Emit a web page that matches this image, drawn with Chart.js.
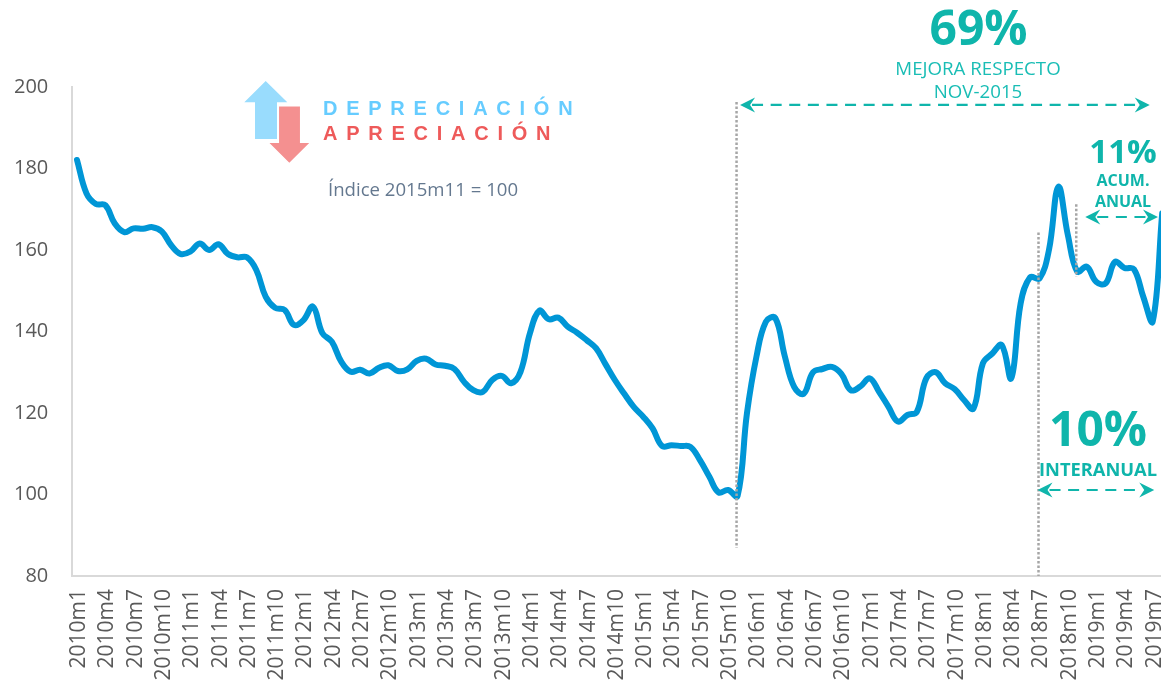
<!DOCTYPE html>
<html>
<head>
<meta charset="utf-8">
<style>
  html, body { margin: 0; padding: 0; background: #fff; overflow: hidden; }
  #wrap { width: 1161px; height: 683px; overflow: hidden; }
  canvas { display: block; }
</style>
<script src="https://cdn.jsdelivr.net/npm/chart.js@4/dist/chart.umd.js"></script>
</head>
<body>
<div id="wrap"><canvas id="chart" width="1170" height="683"></canvas></div>
<script>
const categories = [
  '2010m1','2010m2','2010m3','2010m4','2010m5','2010m6','2010m7','2010m8','2010m9','2010m10','2010m11','2010m12',
  '2011m1','2011m2','2011m3','2011m4','2011m5','2011m6','2011m7','2011m8','2011m9','2011m10','2011m11','2011m12',
  '2012m1','2012m2','2012m3','2012m4','2012m5','2012m6','2012m7','2012m8','2012m9','2012m10','2012m11','2012m12',
  '2013m1','2013m2','2013m3','2013m4','2013m5','2013m6','2013m7','2013m8','2013m9','2013m10','2013m11','2013m12',
  '2014m1','2014m2','2014m3','2014m4','2014m5','2014m6','2014m7','2014m8','2014m9','2014m10','2014m11','2014m12',
  '2015m1','2015m2','2015m3','2015m4','2015m5','2015m6','2015m7','2015m8','2015m9','2015m10','2015m11','2015m12',
  '2016m1','2016m2','2016m3','2016m4','2016m5','2016m6','2016m7','2016m8','2016m9','2016m10','2016m11','2016m12',
  '2017m1','2017m2','2017m3','2017m4','2017m5','2017m6','2017m7','2017m8','2017m9','2017m10','2017m11','2017m12',
  '2018m1','2018m2','2018m3','2018m4','2018m5','2018m6','2018m7','2018m8','2018m9','2018m10','2018m11','2018m12',
  '2019m1','2019m2','2019m3','2019m4','2019m5','2019m6','2019m7','2019m8'
]

const indexValues = [
  182.1, 173.9, 171.3, 171.0, 166.5, 164.4, 165.3, 165.2, 165.6, 164.5, 161.1, 159.0,
  159.6, 161.6, 160.0, 161.4, 159.0, 158.2, 158.2, 155.1, 148.5, 145.8, 145.3, 141.6,
  142.8, 146.1, 139.6, 137.5, 132.6, 130.1, 130.6, 129.7, 131.1, 131.7, 130.3, 130.7,
  132.8, 133.3, 131.9, 131.6, 130.8, 127.7, 125.6, 125.2, 128.1, 129.1, 127.3, 130.1,
  139.6, 145.1, 143.0, 143.4, 141.2, 139.7, 137.9, 135.9, 132.0, 128.1, 124.7, 121.5,
  119.1, 116.2, 111.9, 112.1, 111.9, 111.7, 108.5, 104.4, 100.5, 101.1, 99.6, 120.0,
  133.8, 142.4, 143.3, 134.0, 126.4, 124.7, 130.0, 130.8, 131.3, 129.6, 125.6, 126.5,
  128.5, 125.2, 121.5, 117.9, 119.5, 120.3, 128.5, 130.0, 127.3, 125.9, 123.2, 121.1,
  132.2, 134.6, 136.7, 128.5, 146.9, 153.3, 153.0, 160.0, 175.5, 163.7, 154.7, 155.9,
  152.2, 151.8, 157.1, 155.6, 155.3, 148.5, 142.5, 169.0
]

const yTicks = [80, 100, 120, 140, 160, 180, 200]

// dotted guides: category, top value, bottom value
const guideIndex = ['2015m11', '2018m7', '2018m11']
const guideTop = [196.3, 164.3, 171.2]
const guideBottom = [86.9, 80, 153.5]

// dashed arrows: from category, to category, at value
const arrowFrom = ['2015m11', '2018m7', '2018m11']
const arrowTo = ['2019m7', '2019m7', '2019m8']
const arrowValue = [195.6, 101.1, 168.1]

const TEAL = '#0fb5ab'
const FONT = '"Open Sans"'

function drawArrow(ctx, x1, x2, y) {
  ctx.save()
  ctx.strokeStyle = TEAL
  ctx.fillStyle = TEAL
  ctx.lineWidth = 2.2
  ctx.setLineDash([11, 7.6])
  ctx.beginPath()
  ctx.moveTo(x1 + 12, y)
  ctx.lineTo(x2 - 12, y)
  ctx.stroke()
  ctx.setLineDash([])
  for (const [tip, dir] of [[x1, 1], [x2, -1]]) {
    ctx.beginPath()
    ctx.moveTo(tip, y)
    ctx.lineTo(tip + dir * 15, y - 7.5)
    ctx.lineTo(tip + dir * 10, y)
    ctx.lineTo(tip + dir * 15, y + 7.5)
    ctx.closePath()
    ctx.fill()
  }
  ctx.restore()
}

function text(ctx, str, x, y, font, color, align) {
  ctx.font = font
  ctx.fillStyle = color
  ctx.textAlign = align || 'center'
  ctx.textBaseline = 'alphabetic'
  ctx.fillText(str, x, y)
}

function poly(ctx, points, fill, stroke) {
  ctx.beginPath()
  points.forEach((p, i) => i ? ctx.lineTo(p[0], p[1]) : ctx.moveTo(p[0], p[1]))
  ctx.closePath()
  ctx.fillStyle = fill
  ctx.fill()
  if (stroke) {
    ctx.strokeStyle = stroke
    ctx.lineWidth = 1.5
    ctx.stroke()
  }
}

const annotations = {
  id: 'annotations',
  afterDatasetsDraw(chart) {
    const { ctx, scales: { x, y } } = chart
    ctx.save()

    // guides
    ctx.strokeStyle = '#a6a6a6'
    ctx.lineWidth = 2.5
    ctx.setLineDash([2.5, 2])
    guideIndex.forEach((c, i) => {
      const px = x.getPixelForValue(categories.indexOf(c)) - 1
      ctx.beginPath()
      ctx.moveTo(px, y.getPixelForValue(guideTop[i]))
      ctx.lineTo(px, y.getPixelForValue(guideBottom[i]))
      ctx.stroke()
    })
    ctx.setLineDash([])

    // arrows, nudged off the guides they start from
    const ax = (c) => x.getPixelForValue(categories.indexOf(c))
    drawArrow(ctx, ax(arrowFrom[0]) + 2.5, ax(arrowTo[0]) - 3, y.getPixelForValue(arrowValue[0]))
    drawArrow(ctx, ax(arrowFrom[1]) - 2, ax(arrowTo[1]) + 1.5, y.getPixelForValue(arrowValue[1]))
    drawArrow(ctx, ax(arrowFrom[2]) + 8, 1158, y.getPixelForValue(arrowValue[2]))

    // headline figures
    text(ctx, '69%', 978.5, 45, `bold 48px ${FONT}`, TEAL)
    text(ctx, 'MEJORA RESPECTO', 978, 75, `18.7px ${FONT}`, '#19bdb5')
    text(ctx, 'NOV-2015', 978, 97.5, `18.7px ${FONT}`, '#19bdb5')
    text(ctx, '11%', 1123, 163, `bold 33px ${FONT}`, TEAL)
    text(ctx, 'ACUM.', 1123, 186, `bold 16px ${FONT}`, TEAL)
    text(ctx, 'ANUAL', 1123, 206.5, `bold 16px ${FONT}`, TEAL)
    text(ctx, '10%', 1098, 445.5, `bold 48px ${FONT}`, TEAL)
    text(ctx, 'INTERANUAL', 1098, 476, `bold 18.3px ${FONT}`, TEAL)

    // legend arrows
    poly(ctx, [[265.7, 81], [287.3, 102.3], [277, 102.3], [277, 139], [255, 139], [255, 102.3], [244.3, 102.3]], '#99dcfd')
    poly(ctx, [[278.3, 105.7], [300.7, 105.7], [300.7, 142.3], [311, 142.3], [289.3, 163.7], [267.7, 142.3], [278.3, 142.3]], '#f49090', '#ffffff')

    // legend text
    ctx.letterSpacing = '8.75px'
    text(ctx, 'DEPRECIACIÓN', 323, 114.5, 'bold 20px "Liberation Sans"', '#66ccff', 'left')
    text(ctx, 'APRECIACIÓN', 323, 140, 'bold 20px "Liberation Sans"', '#ee5a5a', 'left')
    ctx.letterSpacing = '0px'
    text(ctx, 'Índice 2015m11 = 100', 328, 196, `18.6px ${FONT}`, '#64788f', 'left')

    ctx.restore()
  }
}

new Chart(document.getElementById('chart'), {
  type: 'line',
  data: {
    labels: categories,
    datasets: [{
      data: indexValues,
      borderColor: '#0096d6',
      borderWidth: 6,
      borderCapStyle: 'round',
      borderJoinStyle: 'round',
      tension: 0.4,
      pointRadius: 0,
      fill: false
    }]
  },
  options: {
    responsive: false,
    animation: false,
    layout: { autoPadding: false, padding: { top: 87, right: 3.1, left: 0, bottom: 0 } },
    plugins: {
      legend: { display: false },
      tooltip: { enabled: false }
    },
    scales: {
      x: {
        offset: true,
        afterFit(s) {
          s.height = 107
          s.paddingLeft = 0
          s.paddingRight = 0
        },
        grid: { display: false },
        border: { color: '#d9d9d9', width: 2 },
        ticks: {
          autoSkip: false,
          minRotation: 90,
          maxRotation: 90,
          padding: 5,
          labelOffset: 2,
          color: '#595959',
          font: { family: 'Open Sans', size: 21 },
          callback(value, i) { return i % 3 === 0 ? categories[i] : '' }
        }
      },
      y: {
        min: yTicks[0],
        max: yTicks[yTicks.length - 1],
        afterFit(s) { s.width = 72.3 },
        afterBuildTicks(s) { s.ticks = yTicks.map((v) => ({ value: v })) },
        grid: { display: false },
        border: { color: '#d9d9d9', width: 2 },
        ticks: {
          padding: 16,
          color: '#595959',
          font: { family: 'Open Sans', size: 20 }
        }
      }
    }
  },
  plugins: [annotations]
})
</script>
</body>
</html>
